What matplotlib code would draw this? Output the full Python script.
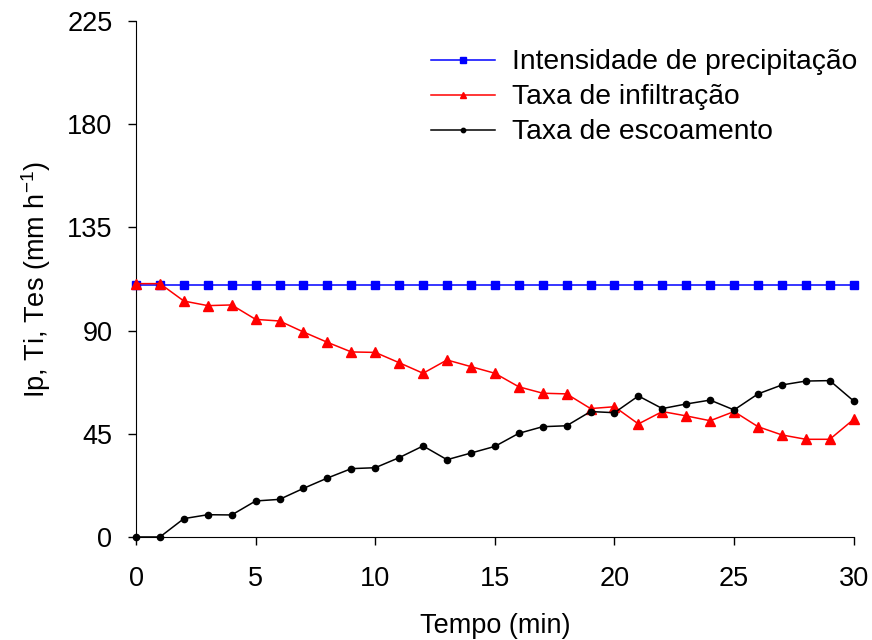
import matplotlib
matplotlib.use("Agg")
import matplotlib.pyplot as plt

plt.rcParams['font.family'] = ['Liberation Sans', 'DejaVu Sans']
plt.rcParams['mathtext.default'] = 'regular'

# Data
tempo = list(range(0, 31))
intensidade = [110] * 31
infiltracao = [110.5, 110.5, 102.9, 100.9, 101.2, 94.9, 94.2, 89.4, 84.9, 80.7,
               80.5, 76.0, 71.4, 77.2, 74.3, 71.4, 65.5, 62.7, 62.4, 56.0,
               56.8, 49.3, 54.7, 52.8, 50.7, 54.7, 48.1, 44.5, 42.6, 42.6, 51.3]
escoamento = [0, 0, 8.0, 9.7, 9.6, 15.7, 16.4, 21.2, 25.7, 29.8,
              30.2, 34.6, 39.7, 33.7, 36.6, 39.5, 45.2, 48.1, 48.5, 54.7,
              54.2, 61.5, 56.0, 58.0, 59.7, 55.4, 62.4, 66.3, 68.0, 68.2, 59.3]

x_ticks = [0, 5, 10, 15, 20, 25, 30]
y_ticks = [0, 45, 90, 135, 180, 225]

fs = 19.5

fig = plt.figure(figsize=(8.72, 6.4), dpi=100)
ax = fig.add_axes([0.156, 0.161, 0.823, 0.806])

ax.plot(tempo, intensidade, color='blue', marker='s', markersize=5.5, linewidth=1.1,
        label='Intensidade de precipitação', clip_on=False, zorder=3)
ax.plot(tempo, infiltracao, color='red', marker='^', markersize=7, linewidth=1.1,
        label='Taxa de infiltração', clip_on=False, zorder=4)
ax.plot(tempo, escoamento, color='black', marker='o', markersize=4.5, linewidth=1.1,
        label='Taxa de escoamento', clip_on=False, zorder=5)

ax.set_xlim(0, 30)
ax.set_ylim(0, 225)
ax.set_xticks(x_ticks)
ax.set_yticks(y_ticks)
ax.spines['top'].set_visible(False)
ax.spines['right'].set_visible(False)
ax.tick_params(direction='out', length=6, width=1, labelsize=fs)
ax.tick_params(axis='x', pad=15)
ax.tick_params(axis='y', pad=11)

ax.set_xlabel('Tempo (min)', fontsize=fs, labelpad=15)
ax.set_ylabel('Ip, Ti, Tes (mm h$^{-1}$)', fontsize=fs, labelpad=10)

ax.legend(loc='upper right', bbox_to_anchor=(883 / 872, 1 - 24 / 640),
          bbox_transform=fig.transFigure, frameon=False,
          fontsize=20.3, markerscale=0.7, handlelength=2.3, handletextpad=0.6,
          labelspacing=0.32)

plt.savefig('out.png', dpi=100)
